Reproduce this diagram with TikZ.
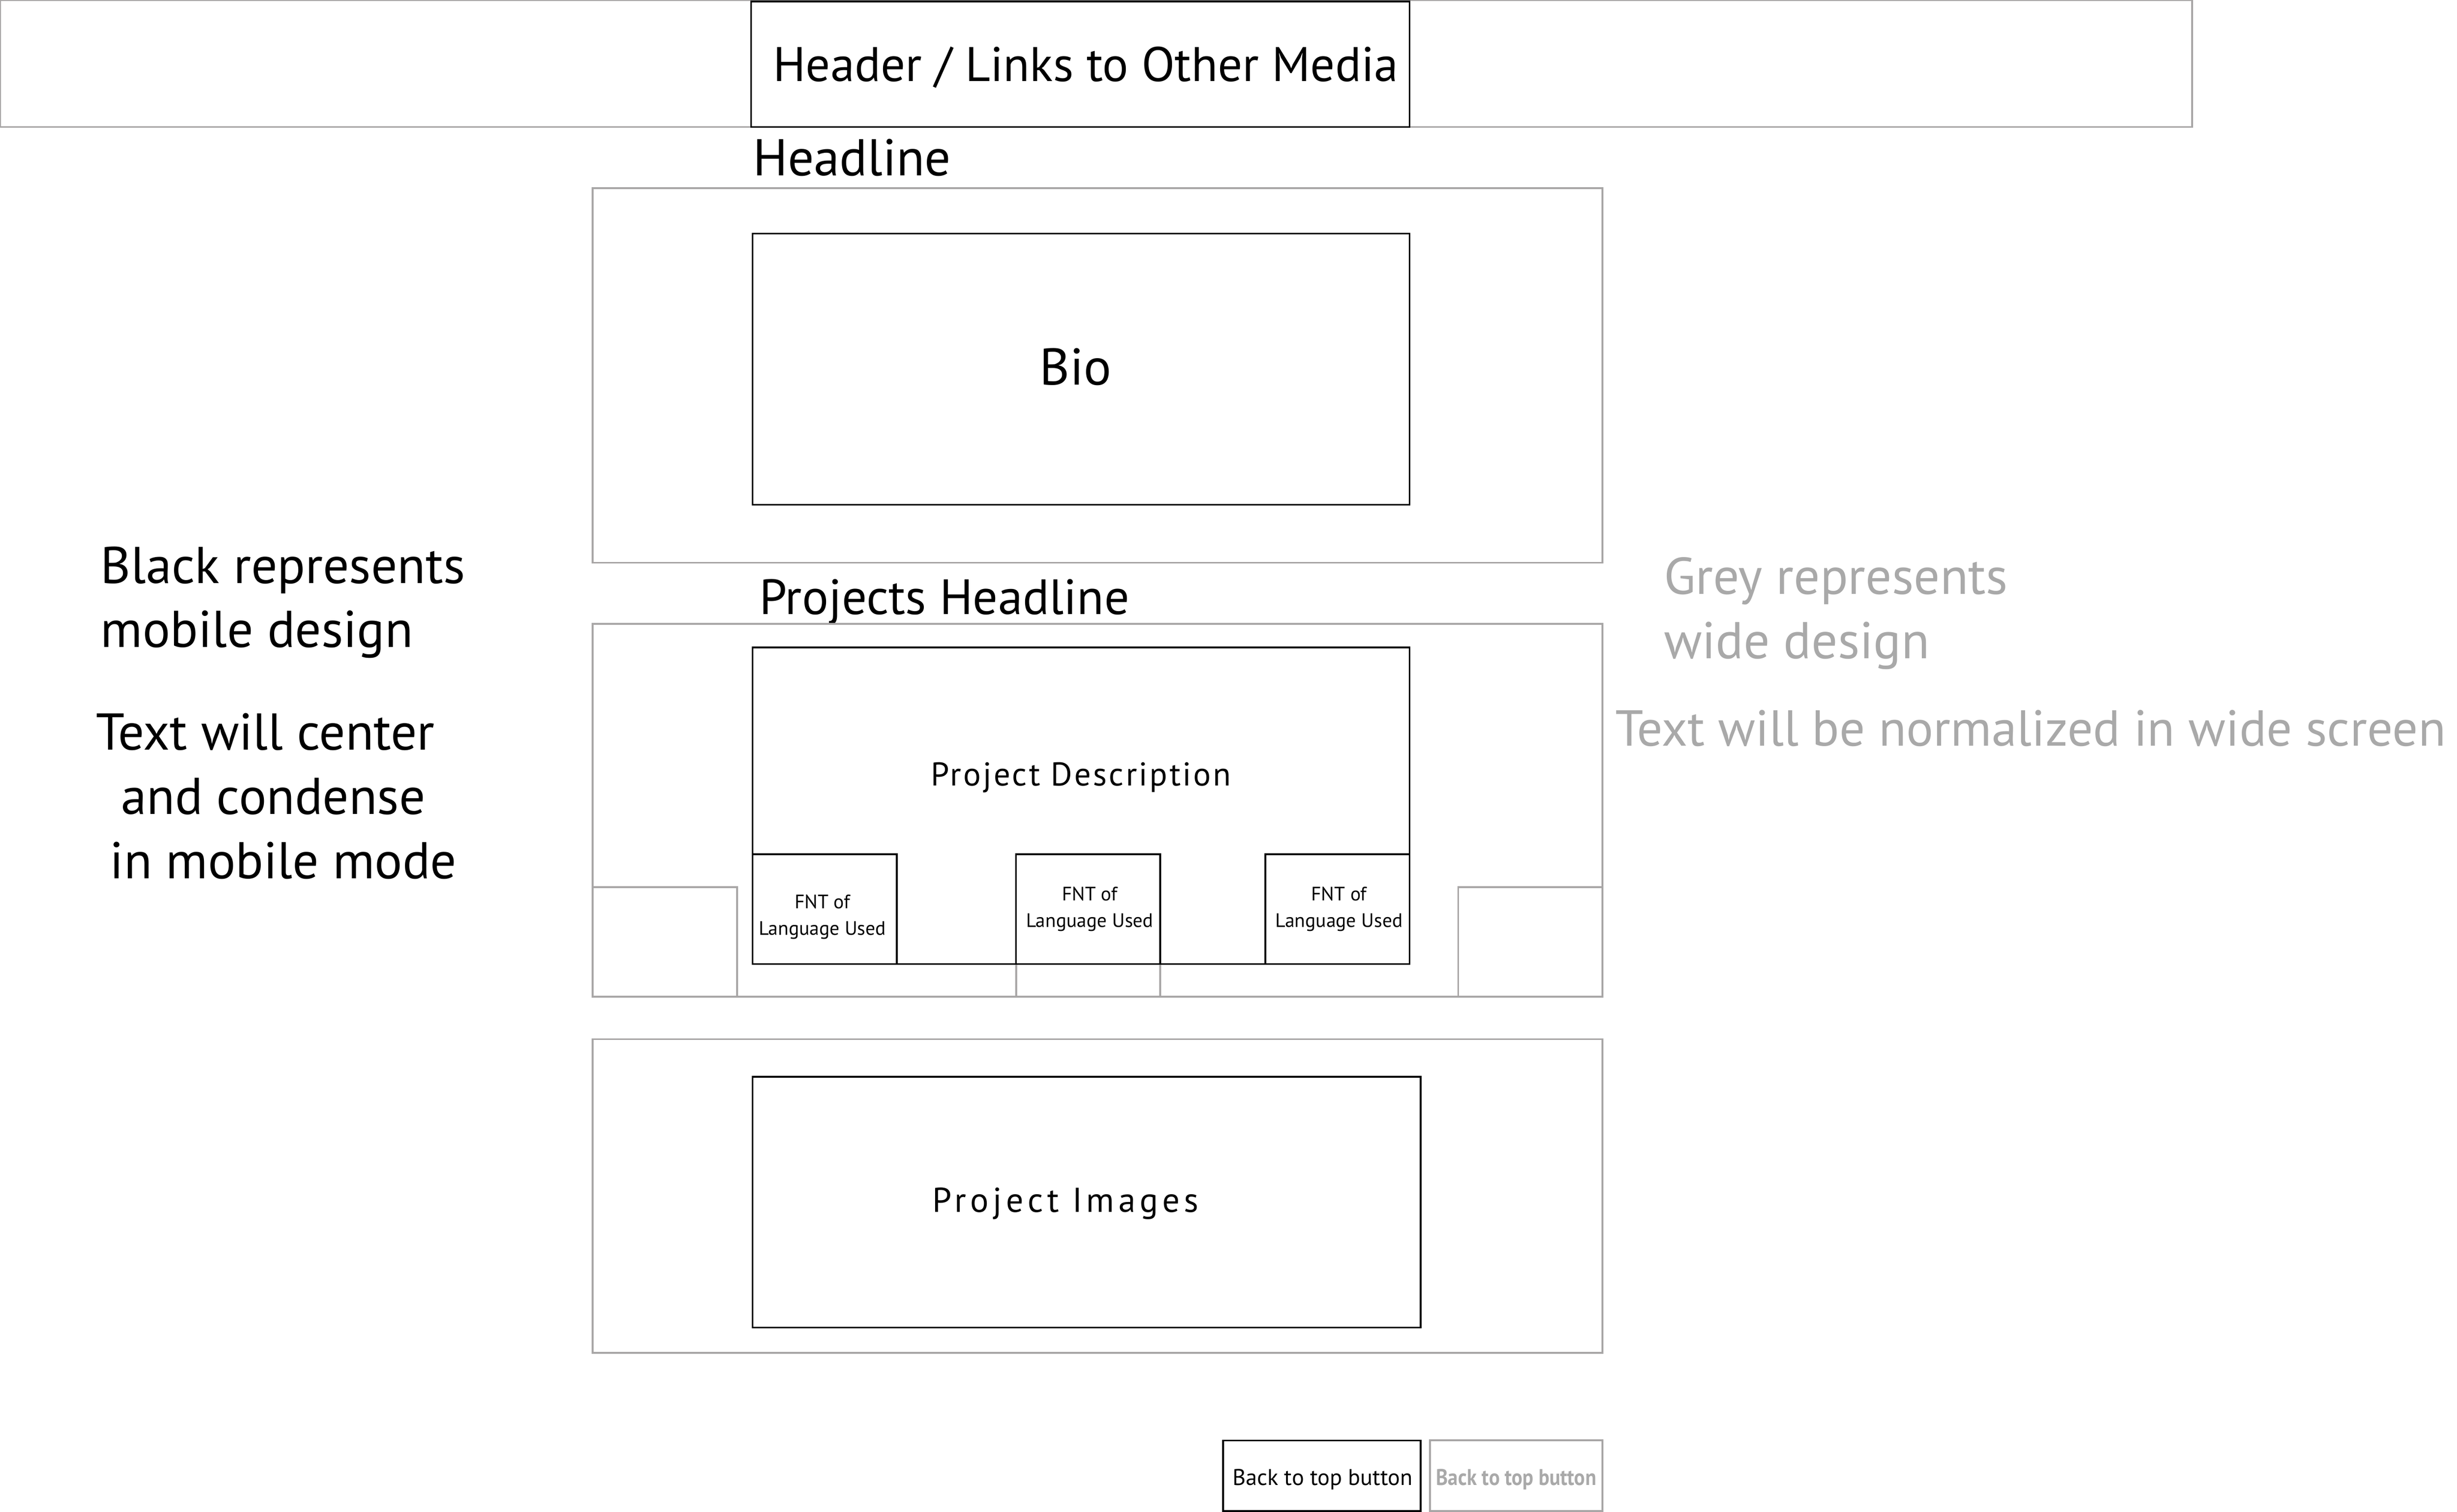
\documentclass[tikz,border=0pt]{standalone}
\usepackage{fontspec}
\setmainfont{PT Sans}
\definecolor{gline}{HTML}{A8A6A6}
\definecolor{gtext}{HTML}{A9A9A9}
\begin{document}
\begin{tikzpicture}[x=1pt,y=-1pt,
  gbox/.style={draw=gline,line width=1.2pt,inner sep=0pt,fill=none},
  bbox/.style={draw=black,line width=1.1pt,inner sep=0pt},
  big/.style={inner sep=0pt,font=\fontsize{33}{41}\selectfont},
  small/.style={inner sep=0pt,align=center,font=\fontsize{12.4}{17}\selectfont},
  btn/.style={inner sep=0pt,font=\fontsize{14.5}{17}\selectfont}]
\useasboundingbox (0,0) rectangle (1567,964.4);
% header
\node[gbox,minimum width=1398,minimum height=81] (headG) at (699,40.5) {};
\node[bbox,fill=white,minimum width=420,minimum height=80] (headB) at (689,41) {};
\node[inner sep=0pt,font=\fontsize{31}{36}\selectfont] (headT) at (692.5,43) {Header / Links to Other Media};
\node[big,anchor=base west] (headline) at (480,112) {Headline};
% bio
\node[gbox,minimum width=644,minimum height=239] (bioG) at (700,239.5) {};
\node[bbox,minimum width=419,minimum height=173] (bioB) at (689.5,235.5) {};
\node[big] (bioT) at (686,234) {Bio};
% projects
\node[big,anchor=base west,font=\fontsize{31.6}{41}\selectfont] (projHead) at (484,392) {Projects Headline};
\node[gbox,minimum width=644,minimum height=238] (projG) at (700,517) {};
\node[gbox,minimum width=92,minimum height=70] (gL) at (424,601) {};
\node[gbox,minimum width=92,minimum height=70] (gR) at (976,601) {};
\node[gbox,minimum width=92,minimum height=70] (gM) at (694,601) {};
\node[bbox,fill=white,minimum width=419,minimum height=202] (descB) at (689.5,514) {};
\node[inner sep=0pt,font=\fontsize{21}{24}\selectfont\addfontfeature{LetterSpace=6}] (descT) at (689.5,496) {Project Description};
\node[bbox,minimum width=92,minimum height=70] (fnt1) at (526,580) {};
\node[bbox,minimum width=92,minimum height=70] (fnt2) at (694,580) {};
\node[bbox,minimum width=92,minimum height=70] (fnt3) at (853,580) {};
\node[small] (fnt1T) at (524.5,585) {FNT of\\Language Used};
\node[small] (fnt2T) at (695,580) {FNT of\\Language Used};
\node[small] (fnt3T) at (854,580) {FNT of\\Language Used};
% images
\node[gbox,minimum width=644,minimum height=200] (imgG) at (700,763) {};
\node[bbox,minimum width=426,minimum height=160] (imgB) at (693,767) {};
\node[inner sep=0pt,font=\fontsize{22}{24}\selectfont\addfontfeature{LetterSpace=12}] (imgT) at (679.5,768) {Project Images};
% buttons
\node[bbox,minimum width=126,minimum height=45] (btnB) at (843,941.5) {};
\node[btn] (btnBT) at (843.5,944) {Back to top button};
\node[gbox,minimum width=110,minimum height=45] (btnG) at (967,941.5) {};
\node[btn,text=gtext,font=\fontsize{14.5}{17}\selectfont\bfseries] (btnGT) at (967,944) {\scalebox{0.89}[1]{Back to top button}};
% notes
\node[big,anchor=base west,align=left] (noteBlack) at (64,413) {Black represents\\mobile design};
\node[big,anchor=base west,align=left] (noteCenter) at (61,560.5) {Text will center\\\hspace*{16pt}and condense\\\hspace*{9pt}in mobile mode};
\node[big,anchor=base west,align=left,text=gtext] (noteGrey) at (1061,420) {Grey represents\\wide design};
\node[big,anchor=base west,text=gtext,font=\fontsize{32.3}{41}\selectfont] (noteWide) at (1030,476) {Text will be normalized in wide screen};
\end{tikzpicture}
\end{document}
